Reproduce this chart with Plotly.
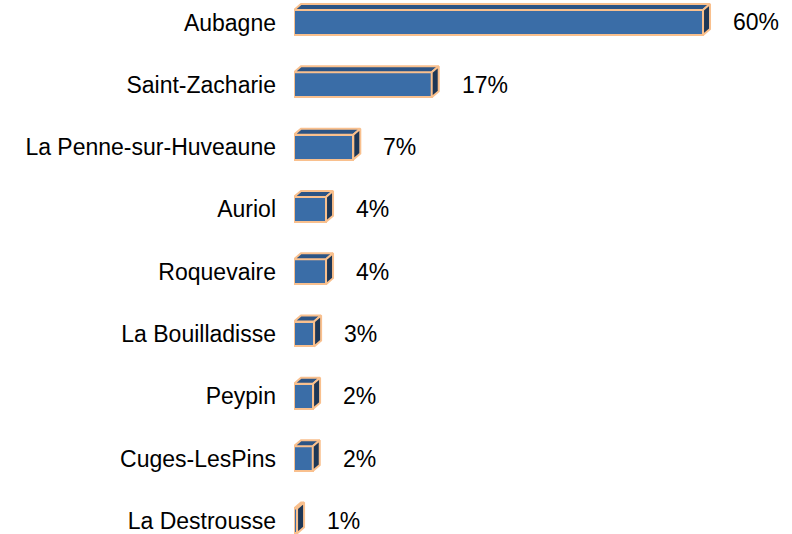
import plotly.graph_objects as go

# ---- data ----
categories = ["Aubagne", "Saint-Zacharie", "La Penne-sur-Huveaune", "Auriol",
              "Roquevaire", "La Bouilladisse", "Peypin", "Cuges-LesPins", "La Destrousse"]
bar_values = [60, 20.2, 8.7, 4.7, 4.7, 2.95, 2.8, 2.75, 0.45]
value_labels = ["60%", "17%", "7%", "4%", "4%", "3%", "2%", "2%", "1%"]

# ---- layout geometry ----
W, H = 792, 534
ML, MR, MT, MB = 294, 0, 0, 0
x_range = [0, 73.05]
y_range = [8.21, -0.361]          # reversed: first category on top
half = 0.2                        # half bar thickness (data units)
depth_px_x, depth_px_y = 7, 6

px_per_x = (W - ML - MR) / (x_range[1] - x_range[0])
px_per_y = (H - MT - MB) / (y_range[0] - y_range[1])
dx = depth_px_x / px_per_x
dy = depth_px_y / px_per_y

front = "#3A6DA7"
top_c = "#2C5485"
side_c = "#1E3756"
edge = "#F9C08E"
LW = 2
FONT = "Liberation Sans, Arial"
FS = 23

ypos = list(range(len(categories)))

fig = go.Figure()

# top faces
tx, ty = [], []
for v, y in zip(bar_values, ypos):
    yt = y - half
    tx += [0, v, v + dx, dx, 0, None]
    ty += [yt, yt, yt - dy, yt - dy, yt, None]
fig.add_trace(go.Scatter(x=tx, y=ty, mode="lines", fill="toself", fillcolor=top_c,
                         line=dict(color=edge, width=LW), hoverinfo="skip",
                         showlegend=False, cliponaxis=False))

# right faces
sx, sy = [], []
for v, y in zip(bar_values, ypos):
    sx += [v, v + dx, v + dx, v, v, None]
    sy += [y - half, y - half - dy, y + half - dy, y + half, y - half, None]
fig.add_trace(go.Scatter(x=sx, y=sy, mode="lines", fill="toself", fillcolor=side_c,
                         line=dict(color=edge, width=LW), hoverinfo="skip",
                         showlegend=False, cliponaxis=False))

# front faces
fig.add_trace(go.Bar(x=bar_values, y=ypos, orientation="h", width=2 * half,
                     marker=dict(color=front, line=dict(color=edge, width=LW)),
                     showlegend=False, cliponaxis=False))

for v, y, t in zip(bar_values, ypos, value_labels):
    fig.add_annotation(x=v, y=y, text=t, showarrow=False, xanchor="left",
                       yanchor="middle", xshift=28,
                       font=dict(family=FONT, size=FS, color="black"))

fig.update_layout(
    width=W, height=H,
    margin=dict(l=ML, r=MR, t=MT, b=MB, pad=0, autoexpand=False),
    paper_bgcolor="white", plot_bgcolor="white",
    font=dict(family=FONT, size=FS, color="black"),
    xaxis=dict(range=x_range, visible=False, fixedrange=True, automargin=False),
    yaxis=dict(range=y_range, tickvals=ypos, ticktext=categories, ticks="",
               showgrid=False, zeroline=False, showline=False, automargin=False,
               ticklabelstandoff=17, fixedrange=True),
    bargap=0,
)

fig.write_html("out.html", config={"displayModeBar": False},
               post_script="document.body.style.margin='0';document.body.style.overflow='hidden';")
